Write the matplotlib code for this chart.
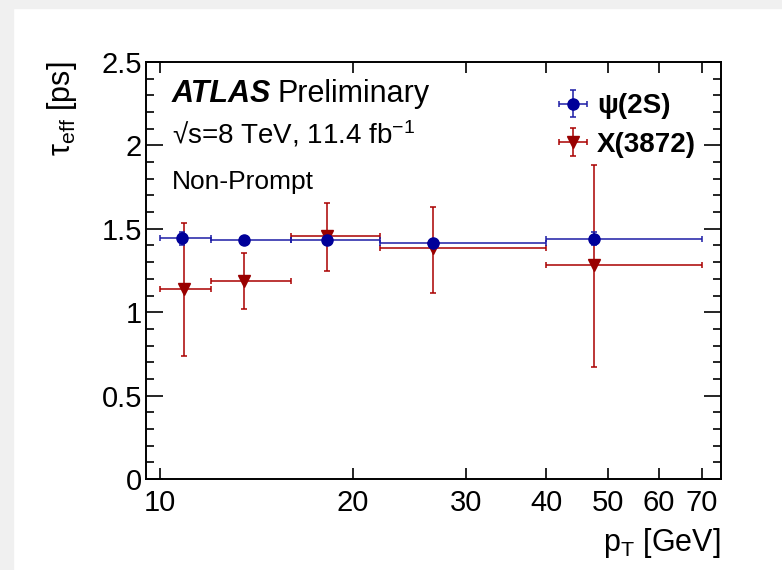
import numpy as np
import matplotlib.pyplot as plt
from matplotlib.patches import Rectangle

# pT bins [GeV]
bin_lo = [10, 12, 16, 22, 40]
bin_hi = [12, 16, 22, 40, 70]

# psi(2S)
psi_x = [10.8, 13.5, 18.2, 26.6, 47.5]
psi_y = [1.443, 1.433, 1.433, 1.413, 1.441]
psi_err = [0.04, 0.02, 0.02, 0.02, 0.04]

# X(3872)
x_x = [10.9, 13.5, 18.2, 26.6, 47.5]
x_y = [1.137, 1.19, 1.457, 1.383, 1.283]
x_err_up = [0.40, 0.167, 0.20, 0.25, 0.60]
x_err_dn = [0.40, 0.173, 0.21, 0.27, 0.61]

xticks = [10, 20, 30, 40, 50, 60, 70]

plt.rcParams['font.family'] = ['Liberation Sans', 'DejaVu Sans']
plt.rcParams['mathtext.fontset'] = 'custom'
plt.rcParams['mathtext.rm'] = 'Liberation Sans'
plt.rcParams['mathtext.it'] = 'Liberation Sans:italic'

fig = plt.figure(figsize=(7.82, 5.70), dpi=100)
fig.patch.set_facecolor('white')
# faint grey strip along left and top edge
fig.patches.append(Rectangle((0, 0), 13 / 782, 1, transform=fig.transFigure,
                             color='#f0f0f0', zorder=-10))
fig.patches.append(Rectangle((0, 1 - 8 / 570), 1, 8 / 570, transform=fig.transFigure,
                             color='#f0f0f0', zorder=-10))

ax = fig.add_axes([146 / 782, 1 - 479 / 570, 575 / 782, 417 / 570])

def xerrs(xc):
    lo = [c - l for c, l in zip(xc, bin_lo)]
    hi = [h - c for c, h in zip(xc, bin_hi)]
    return [lo, hi]

ax.errorbar(psi_x, psi_y, yerr=psi_err, xerr=xerrs(psi_x), fmt='o',
            color='#000099', ecolor='#1c1ca6', elinewidth=1.1,
            capsize=2, capthick=1.1, markersize=8, label='ψ(2S)', zorder=3)
ax.errorbar(x_x, x_y, yerr=[x_err_dn, x_err_up], xerr=xerrs(x_x), fmt='v',
            color='#990000', ecolor='#aa0000', elinewidth=1.1,
            capsize=2, capthick=1.1, markersize=8, label='X(3872)', zorder=2)

ax.set_xscale('log')
ax.set_xlim(9.5, 75)
ax.set_ylim(0, 2.5)
ax.set_xticks(xticks)
ax.set_xticklabels([str(t) for t in xticks])
ax.xaxis.set_minor_locator(plt.NullLocator())
ax.set_yticks([0, 0.5, 1, 1.5, 2, 2.5])
ax.set_yticklabels(['0', '0.5', '1', '1.5', '2', '2.5'])
ax.set_yticks(np.arange(0, 2.51, 0.1), minor=True)
ax.tick_params(which='both', direction='in', top=True, right=True,
               labelsize=21, width=1.2)
ax.tick_params(axis='y', pad=3)
ax.tick_params(axis='x', pad=7)
ax.tick_params(which='major', length=12)
ax.tick_params(which='minor', length=6)
ax.tick_params(axis='x', which='major', length=8)
for s in ax.spines.values():
    s.set_linewidth(1.4)

ax.set_xlabel(r'p$_{\rm T}$ [GeV]', fontsize=22, ha='right')
ax.xaxis.set_label_coords(1.0, -0.112)
ax.set_ylabel('τ$_{\\rm eff}$ [ps]', fontsize=22, ha='right')
ax.yaxis.set_label_coords(-0.117, 1.0)

ax.text(0.045, 0.905, 'ATLAS', transform=ax.transAxes, fontsize=22,
        fontweight='bold', fontstyle='italic')
ax.text(0.228, 0.905, 'Preliminary', transform=ax.transAxes, fontsize=22)
ax.text(0.045, 0.805, '√s=8 TeV, 11.4 fb$^{\\mathregular{-1}}$', transform=ax.transAxes,
        fontsize=20)
ax.text(0.045, 0.695, 'Non-Prompt', transform=ax.transAxes, fontsize=19)

ax.legend(loc='upper right', bbox_to_anchor=(1.0, 0.985), frameon=False,
          prop={'size': 20, 'weight': 'bold'}, handlelength=1.3,
          handletextpad=0.2, labelspacing=0.45)

fig.savefig('out.png', dpi=100)
